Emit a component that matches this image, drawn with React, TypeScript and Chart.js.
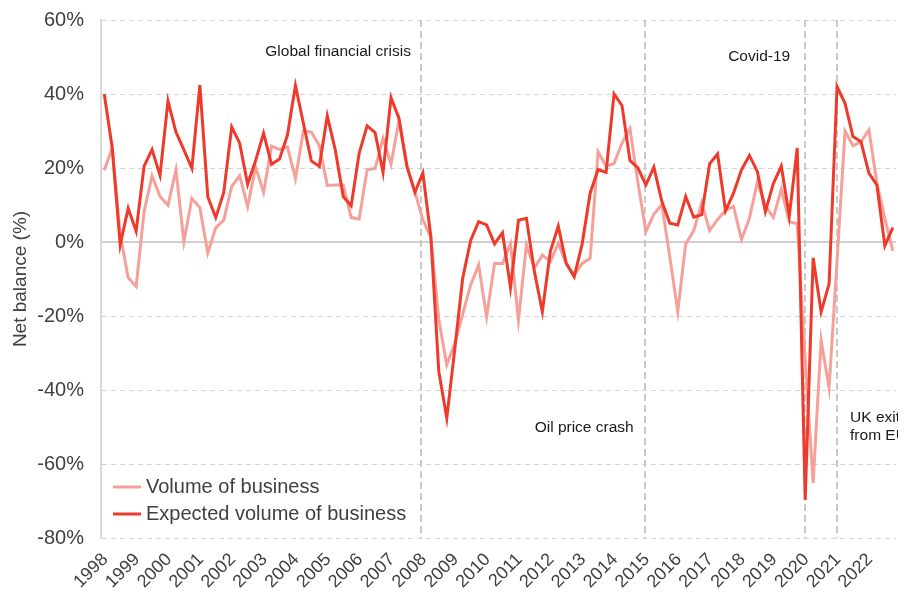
import React, { useEffect, useRef } from 'react';
import { Chart, registerables } from 'chart.js';

Chart.register(...registerables);

// Quarterly data, 1998 Q1 .. 2022 Q4 (index 0 .. 99)
const yearLabels = [
  '1998', '1999', '2000', '2001', '2002', '2003', '2004', '2005', '2006', '2007',
  '2008', '2009', '2010', '2011', '2012', '2013', '2014', '2015', '2016', '2017',
  '2018', '2019', '2020', '2021', '2022',
];

const volumeOfBusiness = [
  19.4, 25.5, 2.0, -9.6, -12.0, 8.2, 17.9, 12.3, 9.9, 19.5,
  0.1, 11.8, 9.3, -3.0, 3.9, 5.9, 15.0, 17.9, 9.6, 20.3,
  13.4, 25.9, 25.0, 25.7, 17.1, 30.0, 29.7, 26.0, 15.3, 15.4,
  15.4, 6.6, 6.2, 19.5, 19.9, 28.0, 21.0, 32.8, 20.5, 13.6,
  6.0, 1.2, -21.0, -33.2, -27.5, -19.5, -11.6, -6.2, -20.2, -5.8,
  -5.8, -0.5, -21.1, -0.8, -7.1, -3.5, -5.3, -0.4, -5.8, -8.9,
  -5.8, -4.4, 24.4, 20.5, 21.2, 26.7, 30.7, 16.0, 2.8, 7.5,
  10.1, -4.0, -18.8, -0.5, 3.0, 10.6, 3.1, 6.1, 8.6, 9.6,
  0.7, 6.4, 16.3, 9.8, 6.6, 14.2, 5.5, 4.9, -32.0, -65.1,
  -26.5, -39.5, -5.0, 30.0, 26.0, 27.1, 30.3, 16.0, 6.3, -2.4,
];

const expectedVolume = [
  40.0, 25.4, -0.8, 9.1, 2.9, 20.5, 25.0, 18.0, 38.1, 29.7,
  24.9, 19.9, 42.4, 12.2, 6.6, 13.4, 31.1, 26.7, 15.6, 22.0,
  29.4, 21.0, 22.4, 28.9, 42.3, 32.1, 21.9, 20.4, 34.1, 24.9,
  12.3, 9.8, 24.0, 31.4, 29.6, 18.8, 39.0, 33.4, 20.4, 13.4,
  18.6, 1.5, -35.0, -47.6, -29.0, -9.8, 0.4, 5.5, 4.6, -0.5,
  2.5, -12.3, 5.9, 6.4, -8.0, -18.8, -2.6, 4.3, -5.8, -9.4,
  -0.5, 13.2, 19.6, 18.8, 40.0, 36.9, 22.0, 20.0, 15.4, 20.2,
  11.0, 5.1, 4.6, 12.3, 6.7, 7.4, 21.1, 23.8, 8.4, 13.2,
  19.5, 23.4, 19.0, 8.2, 15.8, 20.5, 7.0, 25.4, -69.7, -4.3,
  -18.9, -11.3, 42.0, 37.5, 28.5, 27.1, 18.6, 15.4, -1.0, 3.9,
];

const yTickValues = [-80, -60, -40, -20, 0, 20, 40, 60];

// Event marker positions (in quarter-index units) and labels
const eventPositions = [39.75, 67.85, 88, 92];
const eventLabels = ['Global financial crisis', 'Oil price crash', 'Covid-19', 'UK exit|from EU'];
const eventLabelValues = [51.5, -50.3, 50, -47.6];

const FONT = '"Liberation Sans", Arial, sans-serif';
const DARK = '#EE3A2B';
const LIGHT = '#F5A19A';

const overlayPlugin = {
  id: 'overlay',
  beforeDatasetsDraw(chart: any) {
    const { ctx, chartArea, scales } = chart;
    ctx.save();
    ctx.strokeStyle = '#c9c9c9';
    ctx.lineWidth = 2;
    ctx.setLineDash([7, 4]);
    eventPositions.forEach((p) => {
      const x = Math.round(scales.x.getPixelForValue(p));
      ctx.beginPath();
      ctx.moveTo(x, chartArea.top);
      ctx.lineTo(x, chartArea.bottom);
      ctx.stroke();
    });
    ctx.restore();
  },
  afterDatasetsDraw(chart: any) {
    const { ctx, chartArea, scales } = chart;
    ctx.save();
    ctx.fillStyle = '#1a1a1a';
    ctx.font = `15.5px ${FONT}`;
    ctx.textBaseline = 'middle';
    const xs = eventPositions.map((p) => scales.x.getPixelForValue(p));
    ctx.textAlign = 'right';
    ctx.fillText(eventLabels[0], xs[0] - 10, scales.y.getPixelForValue(eventLabelValues[0]));
    ctx.fillText(eventLabels[1], xs[1] - 11, scales.y.getPixelForValue(eventLabelValues[1]));
    ctx.fillText(eventLabels[2], xs[2] - 15, scales.y.getPixelForValue(eventLabelValues[2]));
    ctx.textAlign = 'left';
    const ukLines = eventLabels[3].split('|');
    const ukY = scales.y.getPixelForValue(eventLabelValues[3]);
    ukLines.forEach((t, k) => ctx.fillText(t, xs[3] + 13, ukY + k * 18));

    // legend
    const lx = chartArea.left + 12;
    const entries = [
      { text: 'Volume of business', color: LIGHT, y: chartArea.bottom - 51 },
      { text: 'Expected volume of business', color: DARK, y: chartArea.bottom - 24 },
    ];
    ctx.font = `20px ${FONT}`;
    ctx.textAlign = 'left';
    entries.forEach((e) => {
      ctx.strokeStyle = e.color;
      ctx.lineWidth = 3;
      ctx.beginPath();
      ctx.moveTo(lx, e.y);
      ctx.lineTo(lx + 28, e.y);
      ctx.stroke();
      ctx.fillStyle = '#404040';
      ctx.fillText(e.text, lx + 33, e.y);
    });
    ctx.restore();
  },
};

export default function App() {
  const canvasRef = useRef<HTMLCanvasElement | null>(null);

  useEffect(() => {
    if (!canvasRef.current) return;
    const chart = new Chart(canvasRef.current, {
      type: 'line',
      data: {
        datasets: [
          {
            label: 'Expected volume of business',
            data: expectedVolume.map((v, i) => ({ x: i, y: v })),
            borderColor: DARK,
            borderWidth: 3,
            pointRadius: 0,
            tension: 0,
            fill: false,
            order: 0,
          },
          {
            label: 'Volume of business',
            data: volumeOfBusiness.map((v, i) => ({ x: i, y: v })),
            borderColor: LIGHT,
            borderWidth: 3,
            pointRadius: 0,
            tension: 0,
            fill: false,
            order: 1,
          },
        ],
      },
      options: {
        animation: false,
        responsive: false,
        layout: { padding: { top: 12, right: 2, bottom: 0, left: 0 } },
        plugins: {
          legend: { display: false },
          tooltip: { enabled: false },
        },
        scales: {
          x: {
            type: 'linear',
            min: -0.41,
            max: 99.4,
            grid: { display: false, drawTicks: false, tickLength: 0 },
            border: { display: false },
            afterBuildTicks: (s: any) => {
              s.ticks = yearLabels.map((_, k) => ({ value: k * 4 }));
            },
            afterFit: (s: any) => {
              s.height = 53;
            },
            ticks: {
              autoSkip: false,
              minRotation: 45,
              maxRotation: 45,
              padding: 11,
              labelOffset: 1,
              color: '#404040',
              font: { family: FONT, size: 18 },
              callback: (_v: any, index: number) => yearLabels[index],
            },
          },
          y: {
            type: 'linear',
            min: -80,
            max: 60,
            afterBuildTicks: (s: any) => {
              s.ticks = yTickValues.map((v) => ({ value: v }));
            },
            afterFit: (s: any) => {
              s.width = 93;
            },
            ticks: {
              padding: 0,
              color: '#404040',
              font: { family: FONT, size: 20 },
              callback: (v: any) => `${v}%`,
            },
            grid: {
              drawTicks: true,
              tickLength: 17,
              tickColor: 'rgba(0,0,0,0)',
              color: (c: any) => (c.tick && c.tick.value === 0 ? '#d0d0d0' : '#d4d4d4'),
              lineWidth: (c: any) => (c.tick && c.tick.value === 0 ? 2 : 1),
            },
            border: {
              display: true,
              color: '#d9d9d9',
              width: 2,
              dash: (c: any) => (c.tick && c.tick.value === 0 ? [] : [5, 4]),
            },
            title: {
              display: true,
              text: 'Net balance (%)',
              color: '#404040',
              font: { family: FONT, size: 19 },
              padding: { top: 1, bottom: 0 },
            },
          },
        },
      },
      plugins: [overlayPlugin],
    });
    return () => chart.destroy();
  }, []);

  return (
    <div style={{ width: 890, height: 583 }}>
      <canvas ref={canvasRef} width={890} height={583} style={{ display: 'block' }} />
    </div>
  );
}
